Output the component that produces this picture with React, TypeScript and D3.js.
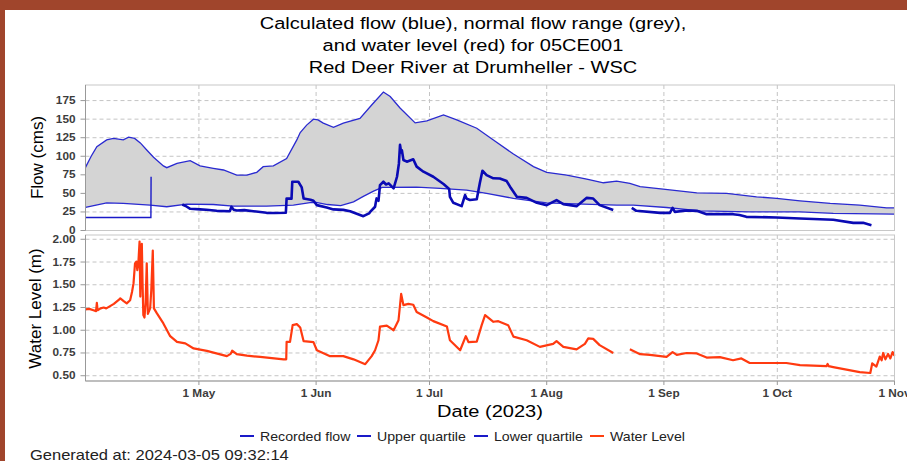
import React from "react";
import * as d3 from "d3";

// ---- Data (x = days since 1 Apr 2023, fractional) ----
const upperDays = [0, 1.5, 3, 5.6, 7.4, 10, 11.4, 13, 14.5, 16.2, 18, 20.6, 21.5, 24.2, 27.7, 30.3, 33.8, 36.5, 40, 42.7, 45.3, 47, 49.7, 53.2, 55.9, 56.8, 58.5, 60.3, 61.5, 62.9, 65.6, 68.2, 72.6, 75.7, 78.8, 80.6, 83.2, 87.2, 90.3, 94.7, 98.2, 103.5, 107.9, 113.2, 118.5, 122, 127.3, 132.6, 137, 140.5, 144, 146.7, 152.8, 161.7, 169.6, 177.5, 182.8, 189, 197, 204.8, 211.9, 214];
const upperVals = [85, 100, 113, 122, 124, 122, 125.7, 124, 118, 108.5, 98.6, 87, 84.6, 90.5, 94, 87, 83.8, 81.5, 74.7, 74.7, 78.4, 86, 87, 97, 122, 132, 142, 150, 149, 144.6, 139, 144.6, 151, 169, 186.5, 180.5, 165, 145, 147.7, 155.8, 149, 137.8, 122, 103, 86, 78.4, 74.7, 69.3, 64.3, 66.6, 63.5, 59, 55.8, 50.8, 50, 45.4, 43.2, 40, 36.5, 34.2, 30.5, 30.5];

const lowerDays = [0, 5.6, 10, 17.1, 21.5, 26.8, 33.8, 39.1, 47.9, 55, 59.4, 61, 64, 67.5, 70.9, 73.5, 76.2, 78.5, 87.6, 93.8, 100.8, 106.1, 113.2, 122, 131.7, 140.5, 144.9, 153.7, 162.5, 175.7, 189, 197.8, 214];
const lowerVals = [31, 37.3, 36.5, 34.2, 32, 35.5, 35, 32.8, 32.8, 34.2, 37.5, 38, 35, 33.5, 38.6, 46, 53, 58, 58.5, 56.8, 54.5, 50, 43.2, 37.3, 35.5, 34.2, 34.2, 31, 26.5, 25.1, 25.1, 23, 22];

const flowEarlyDays = [0, 17.3, 17.35];
const flowEarlyVals = [17.6, 17.6, 72.4];

const flowDays = [25.6, 26.5, 27.7, 30.3, 32, 34.7, 38.2, 38.6, 39.2, 40, 42, 44.4, 47.9, 50, 53, 53.2, 54.5, 54.7, 56.3, 57.2, 57.7, 59.5, 60.3, 61.2, 63.8, 65.6, 68.2, 70, 73.5, 75, 75.3, 76.6, 76.8, 77, 77.5, 77.9, 78.8, 79.5, 80.2, 81.5, 82.4, 82.9, 83.2, 83.5, 83.7, 84.1, 85, 86.7, 87.6, 89.4, 92, 94.7, 96.2, 96.4, 97.3, 99.5, 100.4, 100.8, 101.7, 103.5, 104.3, 105, 106.1, 107.9, 109.6, 111.4, 112.3, 114.1, 116.7, 119.4, 122, 124.6, 126.4, 129.9, 132.6, 134.3, 136, 139.6, 142, 144.5, 145.7, 152, 154.6, 155.3, 155.9, 159, 161.7, 164.3, 171.3, 173, 174.8, 182.8, 189, 196, 197.8, 203.1, 205.7, 207.9];
const flowVals = [35, 33, 29.2, 28.4, 28, 26.5, 26, 32, 28, 27, 27.5, 26, 23.8, 23.5, 24, 43.2, 43, 65.7, 65.7, 58, 43.2, 41.5, 40, 34.2, 31, 28.4, 27.8, 26, 19.3, 23, 25, 32, 38, 43.2, 40, 61.2, 65.7, 62, 63.5, 56.8, 72.4, 90, 115.3, 105, 108, 95, 92.7, 96, 86, 79.2, 72.4, 62.6, 56, 45.4, 37.3, 32.8, 47.7, 43, 41, 42, 63.5, 80.5, 74.7, 70.3, 70, 66.6, 59, 45.4, 44, 37.3, 34.2, 41, 35.5, 32.8, 44, 43, 34.2, 27.5, null, 30.5, 26.5, 23.8, 23.8, 30.5, 25.1, 27, 26.5, 22, 22, 20.8, 18.4, 17.6, 16.2, 14.9, 14.5, 10.3, 10.3, 7.2];

const levelDays = [0, 1, 2.1, 2.8, 3, 3.2, 4, 4.8, 5.5, 6.5, 7.5, 8.7, 9.2, 10.1, 10.9, 11.8, 12.3, 12.7, 13.1, 13.5, 13.7, 14.0, 14.3, 14.5, 14.7, 14.9, 15.1, 15.3, 15.6, 15.9, 16.2, 16.5, 17.1, 17.4, 17.8, 18.1, 18.9, 20.6, 22.4, 24.2, 26.4, 28.6, 32.1, 37.4, 38.4, 38.8, 40, 42.7, 46.2, 52.4, 53.1, 53.2, 54.1, 54.8, 55.9, 56.8, 57.7, 60.3, 61.2, 64.7, 68.2, 70.9, 74, 75.7, 76.6, 77.5, 77.9, 79.7, 81.5, 82.8, 83.5, 84.1, 85.4, 86.7, 87.6, 90.3, 92, 95.6, 96.4, 99.1, 100.6, 101.3, 103.5, 104.8, 105.7, 107.9, 109.2, 111.8, 113.2, 116.7, 120.2, 123.7, 124.6, 126.4, 129.9, 132.1, 133, 134.3, 136, 139.6, 142, 144, 146.7, 149.3, 153.7, 155.3, 156.4, 159, 161.7, 164.3, 167.8, 171.3, 173.5, 175.7, 182.8, 185.4, 189, 196, 196.3, 196.6, 197.8, 204.8, 207.6, 208.1, 209.2, 210.1, 210.6, 211, 211.6, 212.3, 212.9, 213.5, 214];
const levelVals = [1.23, 1.235, 1.22, 1.21, 1.3, 1.22, 1.24, 1.25, 1.24, 1.265, 1.29, 1.33, 1.35, 1.32, 1.295, 1.33, 1.42, 1.515, 1.735, 1.755, 1.66, 1.75, 1.975, 1.37, 1.8, 1.95, 1.5, 1.166, 1.14, 1.3, 1.735, 1.18, 1.24, 1.44, 1.875, 1.24, 1.185, 1.075, 0.935, 0.872, 0.855, 0.8, 0.773, 0.715, 0.74, 0.775, 0.737, 0.72, 0.707, 0.68, 0.68, 0.872, 0.872, 1.056, 1.067, 1.03, 0.88, 0.87, 0.78, 0.715, 0.715, 0.68, 0.627, 0.715, 0.78, 0.89, 1.04, 1.05, 1.0, 1.11, 1.4, 1.276, 1.29, 1.28, 1.2, 1.14, 1.1, 1.04, 0.89, 0.78, 0.935, 0.87, 0.875, 1.056, 1.166, 1.093, 1.1, 1.056, 0.93, 0.89, 0.817, 0.85, 0.88, 0.817, 0.79, 0.85, 0.91, 0.905, 0.836, 0.75, null, 0.79, 0.737, 0.73, 0.707, 0.76, 0.73, 0.75, 0.745, 0.7, 0.705, 0.67, 0.69, 0.64, 0.64, 0.64, 0.616, 0.605, 0.63, 0.605, 0.595, 0.54, 0.53, 0.635, 0.6, 0.71, 0.67, 0.75, 0.68, 0.74, 0.69, 0.76, 0.72];

const flowTicks = [0, 25, 50, 75, 100, 125, 150, 175];
const levelTicks = [0.5, 0.75, 1.0, 1.25, 1.5, 1.75, 2.0];
const titleLines = [
  "Calculated flow (blue), normal flow range (grey),",
  "and water level (red) for 05CE001",
  "Red Deer River at Drumheller - WSC",
];
const legendItems = [
  { label: "Recorded flow", color: "#1a1ac8" },
  { label: "Upper quartile", color: "#1a1ac8" },
  { label: "Lower quartile", color: "#1a1ac8" },
  { label: "Water Level", color: "#ff4010" },
];
const generatedText = "Generated at: 2024-03-05 09:32:14";

// ---- Layout ----
const W = 907;
const H = 461;
const PL = 85.5;
const PR = 894.5;
const T1 = 85;
const B1 = 230.5;
const T2 = 235;
const B2 = 381;
const SX = 1.18; // horizontal stretch of the original rendering

const START = Date.UTC(2023, 3, 1);
const toDate = (d: number) => new Date(START + d * 86400000);

type Pt = { d: Date; v: number | null };
const zip = (ds: number[], vs: (number | null)[]): Pt[] =>
  ds.map((d, i) => ({ d: toDate(d), v: vs[i] }));

const interpAt = (ds: number[], vs: number[], d: number) => {
  for (let i = 0; i < ds.length - 1; i++) {
    if (d >= ds[i] && d <= ds[i + 1]) {
      const t = (d - ds[i]) / (ds[i + 1] - ds[i]);
      return vs[i] + t * (vs[i + 1] - vs[i]);
    }
  }
  return vs[vs.length - 1];
};

export default function App() {
  const x = d3
    .scaleUtc()
    .domain([new Date(START), new Date(Date.UTC(2023, 10, 1))])
    .range([PL, PR]);
  const yF = d3.scaleLinear().domain([0, 196]).range([B1, T1]);
  const yW = d3.scaleLinear().domain([0.442, 2.047]).range([B2, T2]);

  const monthTicks = d3.utcMonth.range(new Date(Date.UTC(2023, 4, 1)), new Date(Date.UTC(2023, 10, 2)));
  const fmt = d3.utcFormat("%-d %b");

  const bandDays = Array.from(new Set([...upperDays, ...lowerDays])).sort((a, b) => a - b);
  const band = bandDays.map((d) => ({
    d: toDate(d),
    lo: interpAt(lowerDays, lowerVals, d),
    hi: interpAt(upperDays, upperVals, d),
  }));

  const area = d3
    .area<{ d: Date; lo: number; hi: number }>()
    .x((p) => x(p.d))
    .y0((p) => yF(p.lo))
    .y1((p) => yF(p.hi));

  const lineF = d3
    .line<Pt>()
    .defined((p) => p.v !== null)
    .x((p) => x(p.d))
    .y((p) => yF(p.v as number));
  const lineW = d3
    .line<Pt>()
    .defined((p) => p.v !== null)
    .x((p) => x(p.d))
    .y((p) => yW(p.v as number));

  const upper = zip(upperDays, upperVals);
  const lower = zip(lowerDays, lowerVals);
  const flowEarly = zip(flowEarlyDays, flowEarlyVals);
  const flow = zip(flowDays, flowVals);
  const level = zip(levelDays, levelVals);

  const font = "'Liberation Sans', Arial, sans-serif";
  const grid = "#c4c4c4";
  const tickFill = "#3c3c3c";

  const legendX = [240, 357, 474, 590];

  const T = (props: { x: number; y: number; anchor?: string; size: number; weight?: string; fill?: string; children: React.ReactNode }) => (
    <text
      transform={`translate(${props.x},${props.y}) scale(${SX},1)`}
      textAnchor={props.anchor || "start"}
      fontFamily={font}
      fontSize={props.size}
      fontWeight={props.weight || "normal"}
      fill={props.fill || "#000"}
    >
      {props.children}
    </text>
  );

  return (
    <div style={{ position: "absolute", left: 0, top: 0 }}>
      <svg width={W} height={H} style={{ display: "block" }}>
        <rect x={0} y={0} width={W} height={H} fill="#a0452c" />
        <rect x={5} y={10} width={W - 5} height={H - 10} fill="#ffffff" />

        {titleLines.map((t, i) => (
          <T key={i} x={473} y={29 + i * 22} anchor="middle" size={17}>
            {t}
          </T>
        ))}

        {/* top panel */}
        {flowTicks.filter((t) => t > 0).map((t) => (
          <line key={t} x1={PL} x2={PR} y1={yF(t)} y2={yF(t)} stroke={grid} strokeDasharray="4,3" />
        ))}
        {monthTicks.map((m, i) => (
          <line key={i} x1={x(m)} x2={x(m)} y1={T1} y2={B1} stroke={grid} strokeDasharray="4,3" />
        ))}
        <path d={area(band) || ""} fill="#d4d4d4" />
        <path d={lineF(upper) || ""} fill="none" stroke="#2a2ad0" strokeWidth={1.3} />
        <path d={lineF(lower) || ""} fill="none" stroke="#2a2ad0" strokeWidth={1.3} />
        <path d={lineF(flowEarly) || ""} fill="none" stroke="#1a1ac8" strokeWidth={1.4} />
        <path d={lineF(flow) || ""} fill="none" stroke="#0a0ab4" strokeWidth={2.6} strokeLinejoin="round" />
        <rect x={PL} y={T1} width={PR - PL} height={B1 - T1} fill="none" stroke="#c8c8c8" />
        <line x1={PL} x2={PL} y1={T1} y2={B1} stroke="#999" />
        {flowTicks.map((t) => (
          <g key={t}>
            <line x1={PL - 5} x2={PL} y1={yF(t)} y2={yF(t)} stroke="#999" />
            <T x={PL - 10} y={yF(t) + 3.5} anchor="end" size={10} weight="bold" fill={tickFill}>
              {t}
            </T>
          </g>
        ))}
        <text transform="translate(43,157.5) rotate(-90)" textAnchor="middle" fontFamily={font} fontSize={17} fill="#000">
          Flow (cms)
        </text>

        {/* bottom panel */}
        {levelTicks.map((t) => (
          <line key={t} x1={PL} x2={PR} y1={yW(t)} y2={yW(t)} stroke={grid} strokeDasharray="4,3" />
        ))}
        {monthTicks.map((m, i) => (
          <line key={i} x1={x(m)} x2={x(m)} y1={T2} y2={B2} stroke={grid} strokeDasharray="4,3" />
        ))}
        <path d={lineW(level) || ""} fill="none" stroke="#ff3a10" strokeWidth={2.2} strokeLinejoin="round" />
        <rect x={PL} y={T2} width={PR - PL} height={B2 - T2} fill="none" stroke="#c8c8c8" />
        <line x1={PL} x2={PL} y1={T2} y2={B2} stroke="#999" />
        <line x1={PL} x2={PR} y1={B2} y2={B2} stroke="#999" />
        {levelTicks.map((t) => (
          <g key={t}>
            <line x1={PL - 5} x2={PL} y1={yW(t)} y2={yW(t)} stroke="#999" />
            <T x={PL - 10} y={yW(t) + 3.5} anchor="end" size={10} weight="bold" fill={tickFill}>
              {t.toFixed(2)}
            </T>
          </g>
        ))}
        {monthTicks.map((m, i) => (
          <g key={i}>
            <line x1={x(m)} x2={x(m)} y1={B2} y2={B2 + 4} stroke="#999" />
            <T x={x(m)} y={B2 + 16} anchor="middle" size={10} weight="bold" fill={tickFill}>
              {fmt(m)}
            </T>
          </g>
        ))}
        <text transform="translate(41,308.5) rotate(-90)" textAnchor="middle" fontFamily={font} fontSize={17} fill="#000">
          Water Level (m)
        </text>
        <T x={490} y={417} anchor="middle" size={17}>
          Date (2023)
        </T>

        {/* legend */}
        {legendItems.map((it, i) => (
          <g key={i}>
            <line x1={legendX[i]} x2={legendX[i] + 14} y1={436} y2={436} stroke={it.color} strokeWidth={2} />
            <T x={legendX[i] + 20} y={440.5} size={12} fill="#222">
              {it.label}
            </T>
          </g>
        ))}
        <T x={30} y={459.5} size={14} fill="#222">
          {generatedText}
        </T>
      </svg>
    </div>
  );
}
